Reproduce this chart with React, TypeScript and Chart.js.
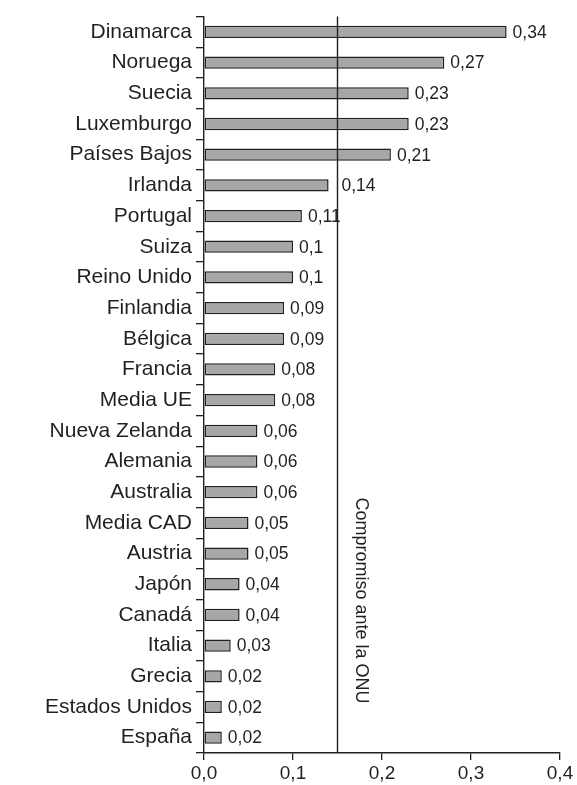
import { useEffect, useRef } from "react";
import { Chart, registerables } from "chart.js";

Chart.register(...registerables);

const countries = [
  "Dinamarca", "Noruega", "Suecia", "Luxemburgo", "Países Bajos", "Irlanda",
  "Portugal", "Suiza", "Reino Unido", "Finlandia", "Bélgica", "Francia",
  "Media UE", "Nueva Zelanda", "Alemania", "Australia", "Media CAD", "Austria",
  "Japón", "Canadá", "Italia", "Grecia", "Estados Unidos", "España",
];
const values = [
  0.34, 0.27, 0.23, 0.23, 0.21, 0.14,
  0.11, 0.1, 0.1, 0.09, 0.09, 0.08,
  0.08, 0.06, 0.06, 0.06, 0.05, 0.05,
  0.04, 0.04, 0.03, 0.02, 0.02, 0.02,
];
const xTicks = [0, 0.1, 0.2, 0.3, 0.4];
const commitment = 0.15;
const commitmentLabel = "Compromiso ante la ONU";

const INK = "#231f20";
const FONT = "'Liberation Sans', Arial, Helvetica, sans-serif";

const fmtValue = (v: number) => String(v).replace(".", ",");
const fmtTick = (v: number) => v.toFixed(1).replace(".", ",");

const overlay = {
  id: "overlay",
  afterDatasetsDraw(chart: any) {
    const { ctx, chartArea, scales } = chart;
    const x = scales.x;
    const lx = x.getPixelForValue(commitment);
    ctx.save();
    ctx.strokeStyle = INK;
    ctx.lineWidth = 1.4;
    ctx.beginPath();
    ctx.moveTo(lx, chartArea.top);
    ctx.lineTo(lx, chartArea.bottom);
    ctx.stroke();

    ctx.font = `17.5px ${FONT}`;
    ctx.fillStyle = INK;
    ctx.textBaseline = "middle";
    ctx.textAlign = "left";
    chart.getDatasetMeta(0).data.forEach((bar: any, i: number) => {
      const t = fmtValue(values[i]);
      let tx = bar.x + 6;
      const w = ctx.measureText(t).width;
      if (tx > lx - 10 && tx < lx + 3 && tx + w > lx) tx = lx + 4;
      ctx.fillText(t, tx, bar.y + 1);
    });

    const h = chartArea.bottom - chartArea.top;
    ctx.translate(lx + 23, chartArea.top + 0.653 * h);
    ctx.rotate(Math.PI / 2);
    ctx.font = `18px ${FONT}`;
    ctx.textBaseline = "middle";
    ctx.textAlign = "left";
    ctx.fillText(commitmentLabel, 0, 0);
    ctx.restore();
  },
};

export default function App() {
  const ref = useRef<HTMLCanvasElement | null>(null);
  useEffect(() => {
    if (!ref.current) return;
    Chart.defaults.font.family = FONT;
    Chart.defaults.color = INK;
    const chart = new Chart(ref.current, {
      type: "bar",
      data: {
        labels: countries,
        datasets: [
          {
            data: values,
            backgroundColor: "#a7a7a9",
            borderColor: INK,
            borderWidth: 1.5,
            borderSkipped: false,
            barPercentage: 0.4,
            categoryPercentage: 1,
          },
        ],
      },
      options: {
        indexAxis: "y",
        animation: false,
        responsive: false,
        maintainAspectRatio: false,
        layout: { padding: { top: 14, right: 17, left: 0, bottom: 0 } },
        plugins: { legend: { display: false }, tooltip: { enabled: false } },
        scales: {
          x: {
            min: 0,
            max: 0.4,
            afterBuildTicks: (s: any) => {
              s.ticks = xTicks.map((v) => ({ value: v }));
            },
            afterFit: (s: any) => {
              s.height = 32;
            },
            ticks: {
              callback: (v: any) => fmtTick(Number(v)),
              font: { size: 19 },
              color: INK,
              padding: 2,
              maxRotation: 0,
            },
            grid: { drawOnChartArea: false, tickLength: 7, color: INK, lineWidth: 1.3 },
            border: { color: INK, width: 1.4 },
          },
          y: {
            afterFit: (s: any) => {
              s.width = 204;
            },
            ticks: { font: { size: 21 }, color: INK, padding: 4, autoSkip: false },
            grid: { offset: true, drawOnChartArea: false, tickLength: 8, color: INK, lineWidth: 1.3 },
            border: { color: INK, width: 1.4 },
          },
        },
      },
      plugins: [overlay],
    });
    return () => chart.destroy();
  }, []);
  return (
    <div style={{ position: "fixed", left: 0, top: 0, width: 577, height: 785, background: "#fff" }}>
      <canvas ref={ref} width={577} height={785} />
    </div>
  );
}
